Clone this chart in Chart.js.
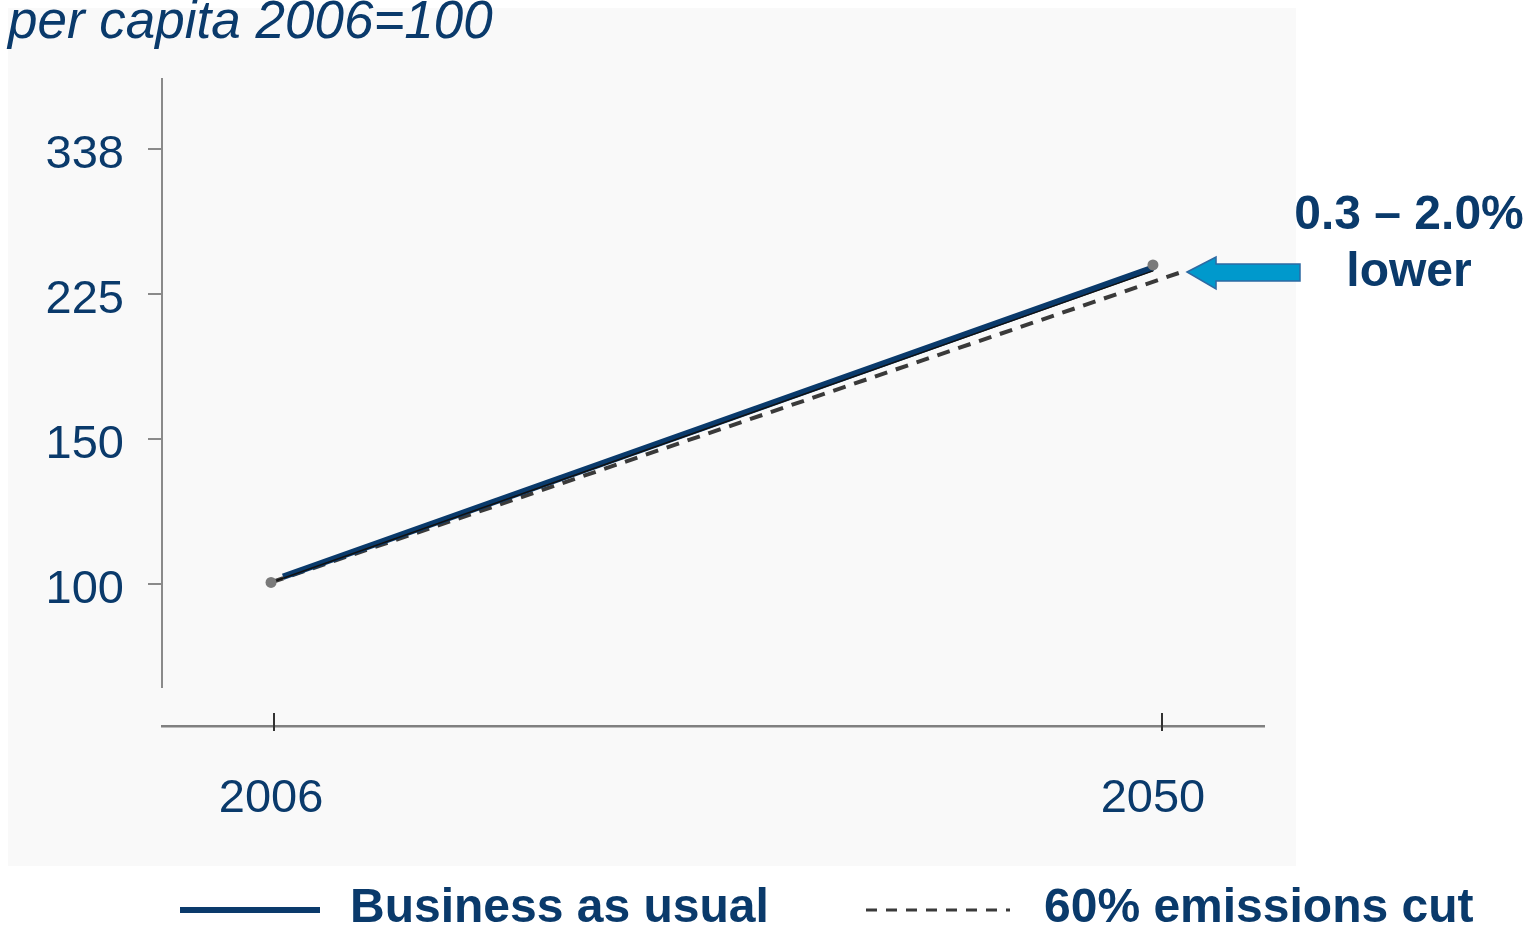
<!DOCTYPE html>
<html>
<head>
<meta charset="utf-8">
<script src="https://cdn.jsdelivr.net/npm/chart.js@4/dist/chart.umd.min.js"></script>
<style>
  html, body { margin: 0; padding: 0; background: #ffffff; }
  #wrap { width: 1534px; height: 925px; }
</style>
</head>
<body>
<div id="wrap"><canvas id="gdpChart" width="1534" height="925"></canvas></div>
<script>
// GDP per capita index, 2006 = 100
const xTicks = [2006, 2050];
const yTicks = [100, 150, 225, 337.5];

const bauYears = [2006.6, 2050];
const bauValues = [102, 242];

const guideYears = [2006, 2050];
const guideValues = [100.4, 240];

const dotYears = [2006, 2050];
const dotValues = [100.4, 244];

const cutYears = [2006, 2051.6];
const cutValues = [100.4, 240];

const NAVY = '#0a3a6b';
const FONT = '"Liberation Sans", Arial, Helvetica, sans-serif';

function toPoints(xs, ys) {
    return xs.map((x, i) => ({ x: x, y: ys[i] }));
}

// panel, axis line, tick marks and the text around the plot
const decorations = {
    id: 'decorations',
    beforeDraw(chart) {
        const ctx = chart.ctx;
        ctx.save();
        ctx.fillStyle = '#ffffff';
        ctx.fillRect(0, 0, chart.width, chart.height);
        ctx.fillStyle = '#f9f9f9';
        ctx.fillRect(8, 8, 1288, 858);
        ctx.restore();
    },
    afterDraw(chart) {
        const ctx = chart.ctx;
        const area = chart.chartArea;
        const xs = chart.scales.x;
        ctx.save();

        // vertical axis stops short of the horizontal one
        ctx.strokeStyle = '#8a8a8a';
        ctx.lineWidth = 2;
        ctx.beginPath();
        ctx.moveTo(area.left, area.top);
        ctx.lineTo(area.left, area.bottom - 38);
        ctx.stroke();

        // x tick marks crossing the axis (sit a little right of the labels)
        const tickNudge = [3, 9];
        ctx.strokeStyle = '#333333';
        ctx.lineWidth = 2;
        xTicks.forEach(function(year, i) {
            const px = Math.round(xs.getPixelForValue(year)) + tickNudge[i];
            ctx.beginPath();
            ctx.moveTo(px, area.bottom - 13);
            ctx.lineTo(px, area.bottom + 5);
            ctx.stroke();
        });

        // unit title
        ctx.fillStyle = NAVY;
        ctx.font = 'italic 53px ' + FONT;
        ctx.textAlign = 'left';
        ctx.textBaseline = 'alphabetic';
        ctx.fillText('per capita 2006=100', 8, 38);

        // arrow pointing at the end of the dashed line
        const tipX = xs.getPixelForValue(cutYears[cutYears.length - 1]) + 2;
        const tipY = 272;
        ctx.beginPath();
        ctx.moveTo(tipX, tipY);
        ctx.lineTo(tipX + 29, tipY - 15);
        ctx.lineTo(tipX + 29, tipY - 8);
        ctx.lineTo(1300, tipY - 8);
        ctx.lineTo(1300, tipY + 9);
        ctx.lineTo(tipX + 29, tipY + 9);
        ctx.lineTo(tipX + 29, tipY + 17);
        ctx.closePath();
        ctx.fillStyle = '#0099cc';
        ctx.fill();
        ctx.strokeStyle = '#2d6aa3';
        ctx.lineWidth = 1.5;
        ctx.stroke();

        ctx.fillStyle = NAVY;
        ctx.font = 'bold 48px ' + FONT;
        ctx.textAlign = 'center';
        ctx.fillText('0.3 \u2013 2.0%', 1409, 229);
        ctx.fillText('lower', 1409, 286);

        // legend
        ctx.strokeStyle = NAVY;
        ctx.lineWidth = 6;
        ctx.beginPath();
        ctx.moveTo(180, 910);
        ctx.lineTo(320, 910);
        ctx.stroke();

        ctx.strokeStyle = '#3a3a3a';
        ctx.lineWidth = 3;
        ctx.setLineDash([11, 9]);
        ctx.beginPath();
        ctx.moveTo(866, 910);
        ctx.lineTo(1010, 910);
        ctx.stroke();
        ctx.setLineDash([]);

        ctx.fillStyle = NAVY;
        ctx.font = 'bold 48px ' + FONT;
        ctx.textAlign = 'left';
        ctx.fillText('Business as usual', 350, 922);
        ctx.fillText('60% emissions cut', 1044, 922);

        ctx.restore();
    }
};

new Chart(document.getElementById('gdpChart'), {
    type: 'line',
    data: {
        datasets: [
            {
                label: 'end points',
                data: toPoints(dotYears, dotValues),
                showLine: false,
                pointRadius: 5.5,
                pointBackgroundColor: '#7a7a7a',
                pointBorderColor: '#7a7a7a',
                pointBorderWidth: 0
            },
            {
                label: 'guide',
                data: toPoints(guideYears, guideValues),
                borderColor: '#111111',
                borderWidth: 1.5,
                pointRadius: 0
            },
            {
                label: 'Business as usual',
                data: toPoints(bauYears, bauValues),
                borderColor: NAVY,
                borderWidth: 6.5,
                pointRadius: 0
            },
            {
                label: '60% emissions cut',
                data: toPoints(cutYears, cutValues),
                borderColor: '#3a3a3a',
                borderWidth: 4,
                borderDash: [13, 9],
                pointRadius: 0
            }
        ]
    },
    options: {
        responsive: false,
        animation: false,
        layout: {
            padding: { top: 78, right: 270, left: 0, bottom: 0 }
        },
        plugins: {
            legend: { display: false },
            tooltip: { enabled: false }
        },
        scales: {
            x: {
                type: 'linear',
                min: 2000.56,
                max: 2055.54,
                afterBuildTicks: function(scale) {
                    scale.ticks = xTicks.map(v => ({ value: v }));
                },
                afterFit: function(scale) {
                    scale.height = 199;
                },
                grid: { display: false },
                border: { display: true, color: '#808080', width: 2.5 },
                ticks: {
                    font: { family: FONT, size: 47 },
                    color: NAVY,
                    padding: 37,
                    maxRotation: 0,
                    callback: v => String(v)
                }
            },
            y: {
                type: 'logarithmic',
                min: 67.2,
                max: 411.6,
                afterBuildTicks: function(scale) {
                    scale.ticks = yTicks.map(v => ({ value: v }));
                },
                afterFit: function(scale) {
                    scale.width = 162;
                },
                grid: {
                    drawOnChartArea: false,
                    drawTicks: true,
                    tickLength: 14,
                    color: '#8a8a8a',
                    lineWidth: 2
                },
                border: { display: false },
                ticks: {
                    font: { family: FONT, size: 47 },
                    color: NAVY,
                    padding: 24,
                    labelOffset: 6,
                    callback: v => String(Math.round(v))
                }
            }
        }
    },
    plugins: [decorations]
});
</script>
</body>
</html>
